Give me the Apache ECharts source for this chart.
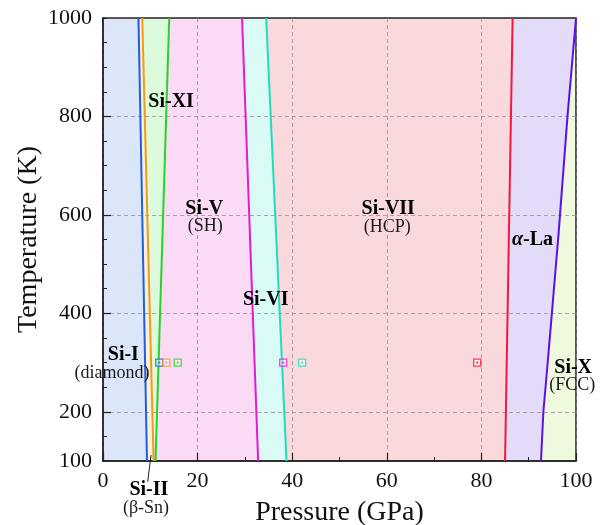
<!DOCTYPE html>
<html><head><meta charset="utf-8">
<script src="https://cdn.jsdelivr.net/npm/echarts@6/dist/echarts.min.js"></script>
<style>html,body{margin:0;padding:0;background:#fff}#c{width:605px;height:525px}</style>
</head><body><div id="c"></div>
<script>
// ---- data ----
const xTickValues = [0, 20, 40, 60, 80, 100];
const yTickLabels = [100, 200, 400, 600, 800, 1000];
const yMajorTicks = [200, 400, 600, 800];

// phase boundaries [pressure GPa, temperature K]
const bI_II   = [[9.3, 100], [7.5, 1000]];
const bII_XI  = [[10.7, 100], [8.3, 1000]];
const bXI_V   = [[11.1, 100], [14.0, 1000]];
const bV_VI   = [[32.8, 100], [29.4, 1000]];
const bVI_VII = [[38.8, 100], [34.5, 1000]];
const bVII_La = [[85.0, 100], [86.6, 1000]];
const bLa_X   = [[92.6, 100], [93.1, 200], [93.7, 265], [94.6, 366], [96.3, 560], [98.2, 800], [100, 1000]];
const leftEdge  = [[0, 100], [0, 1000]];
const rightEdge = [[100, 100], [100, 1000]];

// marker points at 300 K
const markerP = [11.9, 13.4, 15.8, 38.1, 42.1, 79.1];
const markerT = [300, 300, 300, 300, 300, 300];

// phase labels
const labelNames = ['Si-XI', 'Si-V', '(SH)', 'Si-VII', '(HCP)', 'Si-VI', 'α-La', 'Si-I', '(diamond)', 'Si-X', '(FCC)', 'Si-II', '(β-Sn)'];
const labelP = [14.4, 21.4, 21.6, 60.3, 60.1, 34.4, 90.8, 4.3, 1.9, 99.4, 99.2, 9.7, 9.1];
const labelT = [830, 613, 576, 613, 574, 428, 550, 316, 278, 290, 253, 42, 3];
const labelBold = [true, true, false, true, false, true, true, true, false, true, false, true, false];

// Si-II pointer
const pointer = [[10.15, 112], [9.45, 58]];

// ---- styles ----
const lineColors = {
  blue: '#1f5fdf', orange: '#f39a1e', green: '#2bd12b', magenta: '#e21bd6',
  cyan: '#1fdcc0', red: '#f01a3c', purple: '#5b12e6'
};
const markerColors = [lineColors.blue, lineColors.orange, lineColors.green, lineColors.magenta, lineColors.cyan, lineColors.red];

const regions = [
  { left: leftEdge, right: bI_II, color: '#dbe6f8' },
  { left: bI_II, right: bII_XI, color: '#fdf0da' },
  { left: bII_XI, right: bXI_V, color: '#dcfbdc' },
  { left: bXI_V, right: bV_VI, color: '#fbdaf6' },
  { left: bV_VI, right: bVI_VII, color: '#dafbf5' },
  { left: bVI_VII, right: bVII_La, color: '#fad9dd' },
  { left: bVII_La, right: bLa_X, color: '#e4dbf9' },
  { left: bLa_X, right: rightEdge, color: '#eff9dd' }
];

const boundaries = [
  [bI_II, lineColors.blue], [bII_XI, lineColors.orange], [bXI_V, lineColors.green],
  [bV_VI, lineColors.magenta], [bVI_VII, lineColors.cyan], [bVII_La, lineColors.red],
  [bLa_X, lineColors.purple]
];

const FONT = '"Liberation Serif", "DejaVu Serif", serif';
const gridColor = 'rgba(150,135,145,0.75)';

const chart = echarts.init(document.getElementById('c'), null, { renderer: 'canvas' });

const series = [];
series.push({
  type: 'custom',
  z: -5,
  silent: true,
  clip: true,
  data: regions.map((r, i) => [i]),
  renderItem: function (params, api) {
    const r = regions[api.value(0)];
    const pts = r.left.concat(r.right.slice().reverse()).map(p => api.coord(p));
    return { type: 'polygon', shape: { points: pts }, style: { fill: r.color } };
  }
});

boundaries.forEach(([d, c]) => {
  series.push({
    type: 'line', data: d, showSymbol: false, symbol: 'none', z: 3, silent: true,
    lineStyle: { color: c, width: 2 }, clip: true
  });
});

series.push({
  type: 'scatter', z: 5, silent: true,
  symbol: 'rect', symbolSize: 7,
  data: markerP.map((p, i) => ({
    value: [p, markerT[i]],
    itemStyle: { color: 'rgba(255,255,255,0.45)', borderColor: markerColors[i], borderWidth: 1.3 }
  }))
});
series.push({
  type: 'scatter', z: 6, silent: true,
  symbol: 'rect', symbolSize: 2,
  data: markerP.map((p, i) => ({ value: [p, markerT[i]], itemStyle: { color: markerColors[i] } }))
});

series.push({
  type: 'line', data: pointer, showSymbol: false, symbol: 'none', z: 8, silent: true, clip: false,
  lineStyle: { color: '#222', width: 1 }
});

series.push({
  type: 'custom', z: 10, silent: true, clip: false,
  data: labelNames.map((n, i) => [labelP[i], labelT[i], i]),
  renderItem: function (params, api) {
    const i = api.value(2);
    const pt = api.coord([api.value(0), api.value(1)]);
    const n = labelNames[i];
    const bold = labelBold[i];
    const style = {
      text: n === 'α-La' ? '{a|α}{b|-La}' : n,
      x: pt[0], y: pt[1],
      align: 'center', verticalAlign: 'middle',
      fill: bold ? '#000' : '#1a1a1a',
      font: (bold ? 'bold ' : '') + (bold ? 20 : 18) + 'px ' + FONT,
      rich: {
        a: { font: 'italic bold 20px ' + FONT, fill: '#000' },
        b: { font: 'bold 20px ' + FONT, fill: '#000' }
      }
    };
    return { type: 'text', style: style };
  }
});

chart.setOption({
  animation: false,
  backgroundColor: '#fff',
  grid: {
    left: 103, right: 29, top: 18, bottom: 64,
    outerBoundsMode: 'none', containLabel: false,
    show: true, borderColor: '#222', borderWidth: 1.5, backgroundColor: 'transparent'
  },
  xAxis: {
    type: 'value', min: 0, max: 100, interval: 20,
    name: 'Pressure (GPa)', nameLocation: 'middle', nameGap: 38, nameMoveOverlap: false,
    nameTextStyle: { fontFamily: FONT, fontSize: 28, color: '#111' },
    axisLine: { show: true, lineStyle: { color: '#222', width: 1.5 } },
    axisTick: { show: true, inside: true, length: 8, lineStyle: { color: '#222', width: 1.2 } },
    minorTick: { show: true, splitNumber: 2, length: 4, lineStyle: { color: '#222', width: 1 } },
    axisLabel: { fontFamily: FONT, fontSize: 22, color: '#111', margin: 9, formatter: v => String(v) },
    splitLine: { show: true, lineStyle: { color: gridColor, type: [4, 3], width: 1 } }
  },
  yAxis: [{
    type: 'value', min: 100, max: 1000, interval: 100,
    name: 'Temperature (K)', nameLocation: 'middle', nameGap: 60, nameMoveOverlap: false,
    nameTextStyle: { fontFamily: FONT, fontSize: 28, color: '#111' },
    axisLine: { show: true, lineStyle: { color: '#222', width: 1.5 } },
    axisTick: { show: true, inside: true, length: 8, customValues: yMajorTicks, lineStyle: { color: '#222', width: 1.2 } },
    axisLabel: { fontFamily: FONT, fontSize: 22, color: '#111', margin: 11, customValues: yTickLabels, formatter: v => String(v) },
    splitLine: { show: true, lineStyle: { color: gridColor, type: [4, 3], width: 1 } }
  }, {
    type: 'value', min: 100, max: 1000, interval: 50, position: 'left',
    axisLine: { show: false },
    axisTick: { show: true, inside: true, length: 4, lineStyle: { color: '#222', width: 1 } },
    axisLabel: { show: false },
    splitLine: { show: false }
  }],
  series: series
});
</script>
</body></html>
